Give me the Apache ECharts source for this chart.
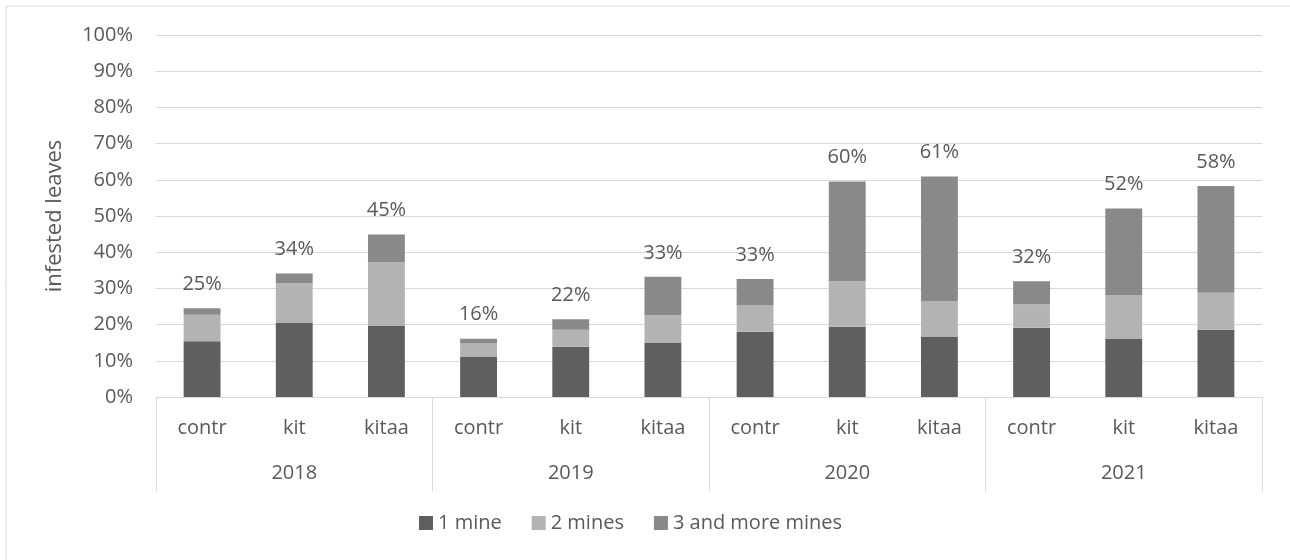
<!DOCTYPE html>
<html>
<head>
<meta charset="utf-8">
<script src="https://cdn.jsdelivr.net/npm/echarts@6/dist/echarts.min.js"></script>
<style>
html,body{margin:0;padding:0;background:#fff;}
#chart{width:1290px;height:560px;}
</style>
</head>
<body>
<div id="chart"></div>
<script>
const years = ['2018', '2019', '2020', '2021'];
const treatments = ['contr', 'kit', 'kitaa'];
const categories = ['contr', 'kit', 'kitaa', 'contr', 'kit', 'kitaa', 'contr', 'kit', 'kitaa', 'contr', 'kit', 'kitaa'];
const seriesNames = ['1 mine', '2 mines', '3 and more mines'];
const oneMine   = [15.4, 20.6, 19.6, 11.2, 13.9, 14.9, 18.0, 19.4, 16.7, 19.1, 16.0, 18.6];
const twoMines  = [7.3, 10.8, 17.6, 3.6, 4.7, 7.7, 7.3, 12.6, 9.8, 6.5, 12.2, 10.2];
const threeMore = [1.8, 2.7, 7.7, 1.3, 2.9, 10.6, 7.3, 27.5, 34.4, 6.4, 23.9, 29.5];
const yTicks = [0, 10, 20, 30, 40, 50, 60, 70, 80, 90, 100];

const totals = oneMine.map((v, i) => v + twoMines[i] + threeMore[i]);
const textColor = '#595959';
const gridColor = '#d9d9d9';
const font = '"Open Sans", "Noto Sans", sans-serif';

const chart = echarts.init(document.getElementById('chart'));
chart.setOption({
  animation: false,
  backgroundColor: '#fff',
  textStyle: { fontFamily: font, color: textColor },
  graphic: [{
    type: 'rect',
    shape: { x: 6, y: 6, width: 1320, height: 620 },
    style: { fill: 'none', stroke: gridColor, lineWidth: 1 },
    silent: true
  }],
  grid: { left: 156, right: 28, top: 35, bottom: 163 },
  legend: {
    top: 508,
    left: 414,
    itemWidth: 14,
    itemHeight: 14,
    itemGap: 30,
    icon: 'rect',
    textStyle: { fontFamily: font, fontSize: 20, color: textColor },
    data: seriesNames
  },
  xAxis: [{
    type: 'category',
    data: categories,
    position: 'bottom',
    axisLine: { show: true, lineStyle: { color: gridColor, width: 1 } },
    axisTick: { show: false },
    axisLabel: { interval: 0, margin: 21, fontFamily: font, fontSize: 20, color: textColor }
  }, {
    type: 'category',
    data: years,
    position: 'bottom',
    offset: 0,
    axisLine: { show: false },
    axisTick: { show: true, length: 94, interval: 0, lineStyle: { color: gridColor, width: 1 } },
    axisLabel: { interval: 0, margin: 66, fontFamily: font, fontSize: 20, color: textColor }
  }],
  yAxis: {
    type: 'value',
    min: yTicks[0],
    max: yTicks[yTicks.length - 1],
    interval: 10,
    name: 'infested leaves',
    nameLocation: 'middle',
    nameGap: 90,
    nameTextStyle: { fontFamily: font, fontSize: 22, color: textColor },
    axisLine: { show: false },
    axisTick: { show: false },
    axisLabel: { formatter: '{value}%', margin: 23, fontFamily: font, fontSize: 20, color: textColor },
    splitLine: { lineStyle: { color: gridColor, width: 1 } }
  },
  series: [{
    name: seriesNames[0], type: 'bar', stack: 'total', xAxisIndex: 0,
    barWidth: '40%', data: oneMine, itemStyle: { color: '#5f5f5f' }
  }, {
    name: seriesNames[1], type: 'bar', stack: 'total', xAxisIndex: 0,
    barWidth: '40%', data: twoMines, itemStyle: { color: '#b3b3b3' }
  }, {
    name: seriesNames[2], type: 'bar', stack: 'total', xAxisIndex: 0,
    barWidth: '40%', data: threeMore, itemStyle: { color: '#898989' },
    label: {
      show: true, position: 'top', distance: 14,
      fontFamily: font, fontSize: 20, color: textColor,
      formatter: p => Math.round(totals[p.dataIndex]) + '%'
    }
  }]
});
</script>
</body>
</html>
